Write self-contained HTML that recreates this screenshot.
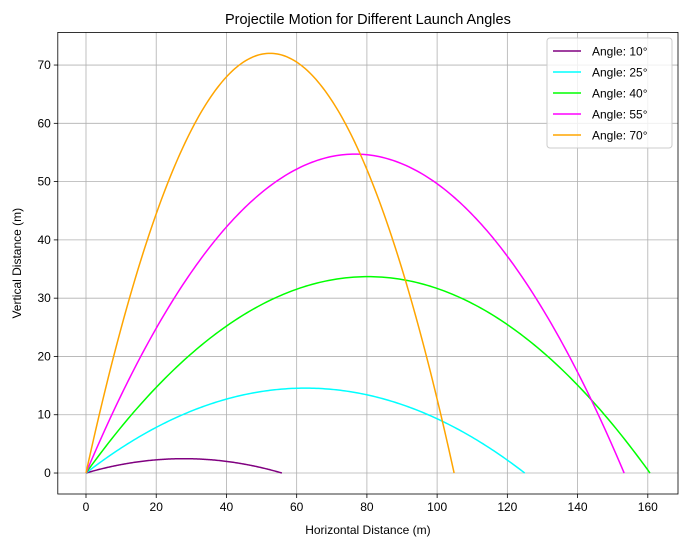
<!DOCTYPE html>
<html><head><meta charset="utf-8"><style>
body{margin:0;background:#fff;}
svg{display:block;font-family:"Liberation Sans","DejaVu Sans",sans-serif;}
</style></head><body>
<svg id="chart" width="686" height="547" xmlns="http://www.w3.org/2000/svg"></svg>
<script>
const angles = [10, 25, 40, 55, 70];
const colors = ['purple', 'cyan', 'lime', 'magenta', 'orange'];
const v0 = [40];
const gravity = [9.81];
const xTicks = [0, 20, 40, 60, 80, 100, 120, 140, 160];
const yTicks = [0, 10, 20, 30, 40, 50, 60, 70];

const L = 57.8, R = 678, T = 32.4, B = 494;
const xMin = -8.03, xMax = 168.6, yMin = -3.6, yMax = 75.6;
const sx = v => L + (v - xMin) / (xMax - xMin) * (R - L);
const sy = v => B - (v - yMin) / (yMax - yMin) * (B - T);
const NS = 'http://www.w3.org/2000/svg';
const svg = document.getElementById('chart');
function mk(tag, attrs, parent) {
  const e = document.createElementNS(NS, tag);
  for (const k in attrs) e.setAttribute(k, attrs[k]);
  (parent || svg).appendChild(e);
  return e;
}
// grid
xTicks.forEach(t => {
  const g = mk('line', {x1: sx(t), x2: sx(t), y1: T, y2: B, stroke: '#b0b0b0', 'stroke-width': 0.8});
  
  
  mk('line', {x1: sx(t), x2: sx(t), y1: B, y2: B + 4, stroke: '#000', 'stroke-width': 0.8});
  const tx = mk('text', {x: sx(t), y: B + 17, 'text-anchor': 'middle', 'font-size': 12});
  tx.textContent = t;
  
  
});
yTicks.forEach(t => {
  const g = mk('line', {x1: L, x2: R, y1: sy(t), y2: sy(t), stroke: '#b0b0b0', 'stroke-width': 0.8});
  
  
  mk('line', {x1: L - 4, x2: L, y1: sy(t), y2: sy(t), stroke: '#000', 'stroke-width': 0.8});
  const tx = mk('text', {x: L - 7, y: sy(t) + 4, 'text-anchor': 'end', 'font-size': 12});
  tx.textContent = t;
  
  
});
// series
angles.forEach((a, i) => {
  const th = a * Math.PI / 180, v = v0[0], g = gravity[0];
  const tf = 2 * v * Math.sin(th) / g;
  let d = '';
  for (let k = 0; k <= 200; k++) {
    const t = tf * k / 200;
    const x = v * Math.cos(th) * t, y = v * Math.sin(th) * t - 0.5 * g * t * t;
    d += (k ? 'L' : 'M') + sx(x).toFixed(2) + ',' + sy(Math.max(y, 0)).toFixed(2);
  }
  const p = mk('path', {d, fill: 'none', stroke: colors[i], 'stroke-width': 1.5});
  
  
});
// frame
const fr = mk('rect', {x: L, y: T, width: R - L, height: B - T, fill: 'none', stroke: '#000', 'stroke-width': 0.8});


// legend
const lg = mk('g', {});


mk('rect', {x: 547, y: 38, width: 125, height: 110, rx: 3, fill: '#fff', 'fill-opacity': 0.8, stroke: '#ccc'}, lg);
angles.forEach((a, i) => {
  const y = 51 + i * 21;
  const e = mk('g', {}, lg);
  
  
  mk('line', {x1: 553, x2: 581, y1: y, y2: y, stroke: colors[i], 'stroke-width': 1.5}, e);
  const t = mk('text', {x: 592, y: y + 4.5, 'font-size': 12}, e);
  t.textContent = 'Angle: ' + a + '°';
});
// titles
const tt = mk('text', {x: (L + R) / 2, y: 24, 'text-anchor': 'middle', 'font-size': 14.5});
tt.textContent = 'Projectile Motion for Different Launch Angles';


const xl = mk('text', {x: (L + R) / 2, y: 534, 'text-anchor': 'middle', 'font-size': 12});
xl.textContent = 'Horizontal Distance (m)';


const yl = mk('text', {x: 0, y: 0, 'text-anchor': 'middle', 'font-size': 12, transform: 'translate(21,' + (T + B) / 2 + ') rotate(-90)'});
yl.textContent = 'Vertical Distance (m)';


</script>
</body></html>
